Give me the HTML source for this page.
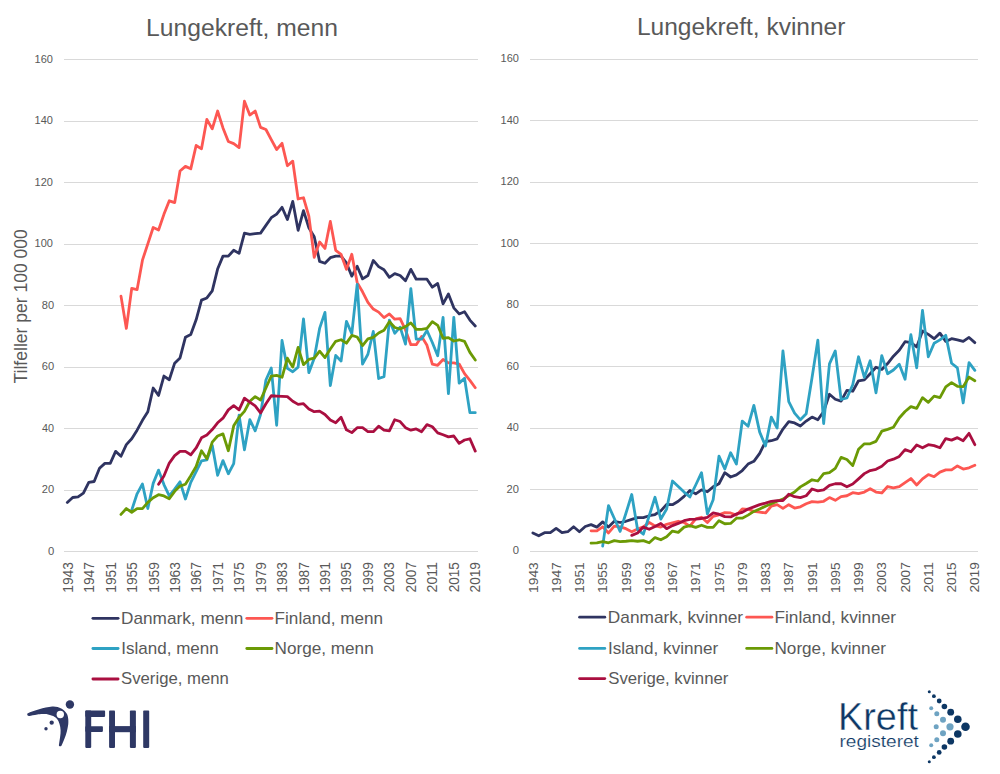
<!DOCTYPE html><html><head><meta charset="utf-8"><title>Lungekreft</title><style>html,body{margin:0;padding:0;background:#fff;overflow:hidden;}svg{display:block;}text{font-family:"Liberation Sans",sans-serif;}</style></head><body>
<svg width="1000" height="774" viewBox="0 0 1000 774">
<rect width="1000" height="774" fill="#fff"/>
<rect x="64" y="551" width="414" height="1" fill="#d9d9d9"/>
<rect x="64" y="490" width="414" height="1" fill="#d9d9d9"/>
<rect x="64" y="428" width="414" height="1" fill="#d9d9d9"/>
<rect x="64" y="367" width="414" height="1" fill="#d9d9d9"/>
<rect x="64" y="305" width="414" height="1" fill="#d9d9d9"/>
<rect x="64" y="244" width="414" height="1" fill="#d9d9d9"/>
<rect x="64" y="182" width="414" height="1" fill="#d9d9d9"/>
<rect x="64" y="121" width="414" height="1" fill="#d9d9d9"/>
<rect x="64" y="59" width="414" height="1" fill="#d9d9d9"/>
<rect x="530" y="551" width="448" height="1" fill="#d9d9d9"/>
<rect x="530" y="489" width="448" height="1" fill="#d9d9d9"/>
<rect x="530" y="428" width="448" height="1" fill="#d9d9d9"/>
<rect x="530" y="366" width="448" height="1" fill="#d9d9d9"/>
<rect x="530" y="305" width="448" height="1" fill="#d9d9d9"/>
<rect x="530" y="243" width="448" height="1" fill="#d9d9d9"/>
<rect x="530" y="182" width="448" height="1" fill="#d9d9d9"/>
<rect x="530" y="120" width="448" height="1" fill="#d9d9d9"/>
<rect x="530" y="59" width="448" height="1" fill="#d9d9d9"/>
<text x="47.91" y="554.6" font-size="11.3" fill="#595959" textLength="6.28" lengthAdjust="spacingAndGlyphs">0</text>
<text x="512.66" y="554" font-size="11.3" fill="#595959" textLength="6.28" lengthAdjust="spacingAndGlyphs">0</text>
<text x="41.79" y="493.1" font-size="11.3" fill="#595959" textLength="12.4" lengthAdjust="spacingAndGlyphs">20</text>
<text x="506.54" y="492.5" font-size="11.3" fill="#595959" textLength="12.4" lengthAdjust="spacingAndGlyphs">20</text>
<text x="42.1" y="431.6" font-size="11.3" fill="#595959" textLength="12.07" lengthAdjust="spacingAndGlyphs">40</text>
<text x="506.85" y="431" font-size="11.3" fill="#595959" textLength="12.07" lengthAdjust="spacingAndGlyphs">40</text>
<text x="41.78" y="370.1" font-size="11.3" fill="#595959" textLength="12.4" lengthAdjust="spacingAndGlyphs">60</text>
<text x="506.53" y="369.5" font-size="11.3" fill="#595959" textLength="12.4" lengthAdjust="spacingAndGlyphs">60</text>
<text x="41.87" y="308.6" font-size="11.3" fill="#595959" textLength="12.31" lengthAdjust="spacingAndGlyphs">80</text>
<text x="506.62" y="308" font-size="11.3" fill="#595959" textLength="12.31" lengthAdjust="spacingAndGlyphs">80</text>
<text x="34.56" y="247.1" font-size="11.3" fill="#595959" textLength="18.37" lengthAdjust="spacingAndGlyphs">100</text>
<text x="500.56" y="246.5" font-size="11.3" fill="#595959" textLength="18.37" lengthAdjust="spacingAndGlyphs">100</text>
<text x="34.56" y="185.6" font-size="11.3" fill="#595959" textLength="18.37" lengthAdjust="spacingAndGlyphs">120</text>
<text x="500.56" y="185" font-size="11.3" fill="#595959" textLength="18.37" lengthAdjust="spacingAndGlyphs">120</text>
<text x="34.56" y="124.1" font-size="11.3" fill="#595959" textLength="18.37" lengthAdjust="spacingAndGlyphs">140</text>
<text x="500.56" y="123.5" font-size="11.3" fill="#595959" textLength="18.37" lengthAdjust="spacingAndGlyphs">140</text>
<text x="34.56" y="62.6" font-size="11.3" fill="#595959" textLength="18.37" lengthAdjust="spacingAndGlyphs">160</text>
<text x="500.56" y="62" font-size="11.3" fill="#595959" textLength="18.37" lengthAdjust="spacingAndGlyphs">160</text>
<text transform="translate(72.86,591.7) rotate(-90)" x="-1.05" y="0" font-size="14.27" fill="#595959" textLength="30.66" lengthAdjust="spacingAndGlyphs">1943</text>
<text transform="translate(94.29,591.7) rotate(-90)" x="-1.05" y="0" font-size="14.27" fill="#595959" textLength="30.75" lengthAdjust="spacingAndGlyphs">1947</text>
<text transform="translate(115.72,591.7) rotate(-90)" x="-1.05" y="0" font-size="14.27" fill="#595959" textLength="30.73" lengthAdjust="spacingAndGlyphs">1951</text>
<text transform="translate(137.14,591.7) rotate(-90)" x="-1.05" y="0" font-size="14.27" fill="#595959" textLength="30.63" lengthAdjust="spacingAndGlyphs">1955</text>
<text transform="translate(158.57,591.7) rotate(-90)" x="-1.05" y="0" font-size="14.27" fill="#595959" textLength="30.71" lengthAdjust="spacingAndGlyphs">1959</text>
<text transform="translate(180,591.7) rotate(-90)" x="-1.05" y="0" font-size="14.27" fill="#595959" textLength="30.66" lengthAdjust="spacingAndGlyphs">1963</text>
<text transform="translate(201.43,591.7) rotate(-90)" x="-1.05" y="0" font-size="14.27" fill="#595959" textLength="30.75" lengthAdjust="spacingAndGlyphs">1967</text>
<text transform="translate(222.86,591.7) rotate(-90)" x="-1.05" y="0" font-size="14.27" fill="#595959" textLength="30.73" lengthAdjust="spacingAndGlyphs">1971</text>
<text transform="translate(244.28,591.7) rotate(-90)" x="-1.05" y="0" font-size="14.27" fill="#595959" textLength="30.63" lengthAdjust="spacingAndGlyphs">1975</text>
<text transform="translate(265.71,591.7) rotate(-90)" x="-1.05" y="0" font-size="14.27" fill="#595959" textLength="30.71" lengthAdjust="spacingAndGlyphs">1979</text>
<text transform="translate(287.14,591.7) rotate(-90)" x="-1.05" y="0" font-size="14.27" fill="#595959" textLength="30.66" lengthAdjust="spacingAndGlyphs">1983</text>
<text transform="translate(308.57,591.7) rotate(-90)" x="-1.05" y="0" font-size="14.27" fill="#595959" textLength="30.75" lengthAdjust="spacingAndGlyphs">1987</text>
<text transform="translate(330,591.7) rotate(-90)" x="-1.05" y="0" font-size="14.27" fill="#595959" textLength="30.73" lengthAdjust="spacingAndGlyphs">1991</text>
<text transform="translate(351.42,591.7) rotate(-90)" x="-1.05" y="0" font-size="14.27" fill="#595959" textLength="30.63" lengthAdjust="spacingAndGlyphs">1995</text>
<text transform="translate(372.85,591.7) rotate(-90)" x="-1.05" y="0" font-size="14.27" fill="#595959" textLength="30.71" lengthAdjust="spacingAndGlyphs">1999</text>
<text transform="translate(394.28,591.7) rotate(-90)" x="-0.68" y="0" font-size="14.27" fill="#595959" textLength="30.28" lengthAdjust="spacingAndGlyphs">2003</text>
<text transform="translate(415.71,591.7) rotate(-90)" x="-0.69" y="0" font-size="14.27" fill="#595959" textLength="30.37" lengthAdjust="spacingAndGlyphs">2007</text>
<text transform="translate(437.14,591.7) rotate(-90)" x="-0.69" y="0" font-size="14.27" fill="#595959" textLength="30.35" lengthAdjust="spacingAndGlyphs">2011</text>
<text transform="translate(458.56,591.7) rotate(-90)" x="-0.68" y="0" font-size="14.27" fill="#595959" textLength="30.26" lengthAdjust="spacingAndGlyphs">2015</text>
<text transform="translate(479.99,591.7) rotate(-90)" x="-0.69" y="0" font-size="14.27" fill="#595959" textLength="30.33" lengthAdjust="spacingAndGlyphs">2019</text>
<text transform="translate(537.67,591.9) rotate(-90)" x="-1.05" y="0" font-size="13.7" fill="#595959" textLength="30.66" lengthAdjust="spacingAndGlyphs">1943</text>
<text transform="translate(560.91,591.9) rotate(-90)" x="-1.05" y="0" font-size="13.7" fill="#595959" textLength="30.75" lengthAdjust="spacingAndGlyphs">1947</text>
<text transform="translate(584.16,591.9) rotate(-90)" x="-1.05" y="0" font-size="13.7" fill="#595959" textLength="30.73" lengthAdjust="spacingAndGlyphs">1951</text>
<text transform="translate(607.41,591.9) rotate(-90)" x="-1.05" y="0" font-size="13.7" fill="#595959" textLength="30.63" lengthAdjust="spacingAndGlyphs">1955</text>
<text transform="translate(630.66,591.9) rotate(-90)" x="-1.05" y="0" font-size="13.7" fill="#595959" textLength="30.71" lengthAdjust="spacingAndGlyphs">1959</text>
<text transform="translate(653.91,591.9) rotate(-90)" x="-1.05" y="0" font-size="13.7" fill="#595959" textLength="30.66" lengthAdjust="spacingAndGlyphs">1963</text>
<text transform="translate(677.15,591.9) rotate(-90)" x="-1.05" y="0" font-size="13.7" fill="#595959" textLength="30.75" lengthAdjust="spacingAndGlyphs">1967</text>
<text transform="translate(700.4,591.9) rotate(-90)" x="-1.05" y="0" font-size="13.7" fill="#595959" textLength="30.73" lengthAdjust="spacingAndGlyphs">1971</text>
<text transform="translate(723.65,591.9) rotate(-90)" x="-1.05" y="0" font-size="13.7" fill="#595959" textLength="30.63" lengthAdjust="spacingAndGlyphs">1975</text>
<text transform="translate(746.9,591.9) rotate(-90)" x="-1.05" y="0" font-size="13.7" fill="#595959" textLength="30.71" lengthAdjust="spacingAndGlyphs">1979</text>
<text transform="translate(770.15,591.9) rotate(-90)" x="-1.05" y="0" font-size="13.7" fill="#595959" textLength="30.66" lengthAdjust="spacingAndGlyphs">1983</text>
<text transform="translate(793.39,591.9) rotate(-90)" x="-1.05" y="0" font-size="13.7" fill="#595959" textLength="30.75" lengthAdjust="spacingAndGlyphs">1987</text>
<text transform="translate(816.64,591.9) rotate(-90)" x="-1.05" y="0" font-size="13.7" fill="#595959" textLength="30.73" lengthAdjust="spacingAndGlyphs">1991</text>
<text transform="translate(839.89,591.9) rotate(-90)" x="-1.05" y="0" font-size="13.7" fill="#595959" textLength="30.63" lengthAdjust="spacingAndGlyphs">1995</text>
<text transform="translate(863.14,591.9) rotate(-90)" x="-1.05" y="0" font-size="13.7" fill="#595959" textLength="30.71" lengthAdjust="spacingAndGlyphs">1999</text>
<text transform="translate(886.39,591.9) rotate(-90)" x="-0.68" y="0" font-size="13.7" fill="#595959" textLength="30.28" lengthAdjust="spacingAndGlyphs">2003</text>
<text transform="translate(909.63,591.9) rotate(-90)" x="-0.69" y="0" font-size="13.7" fill="#595959" textLength="30.37" lengthAdjust="spacingAndGlyphs">2007</text>
<text transform="translate(932.88,591.9) rotate(-90)" x="-0.69" y="0" font-size="13.7" fill="#595959" textLength="30.35" lengthAdjust="spacingAndGlyphs">2011</text>
<text transform="translate(956.13,591.9) rotate(-90)" x="-0.68" y="0" font-size="13.7" fill="#595959" textLength="30.26" lengthAdjust="spacingAndGlyphs">2015</text>
<text transform="translate(979.38,591.9) rotate(-90)" x="-0.69" y="0" font-size="13.7" fill="#595959" textLength="30.33" lengthAdjust="spacingAndGlyphs">2019</text>
<polyline points="67.3,502.41 72.67,497.49 78.04,496.88 83.4,493.19 88.77,482.43 94.14,481.5 99.51,468.28 104.88,463.36 110.24,463.36 115.61,451.37 120.98,456.29 126.35,444.61 131.72,438.77 137.08,430.16 142.45,420.32 147.82,411.71 153.19,388.04 158.56,395.42 163.92,376.05 169.29,379.74 174.66,363.14 180.03,357.91 185.4,337.31 190.76,334.55 196.13,319.79 201.5,300.11 206.87,297.96 212.24,290.89 217.6,269.06 222.97,256.15 228.34,256.15 233.71,250.31 239.08,253.38 244.44,233.09 249.81,234.32 255.18,233.71 260.55,233.09 265.92,225.41 271.28,217.72 276.65,214.03 282.02,207.27 287.39,219.56 292.76,201.43 298.12,230.33 303.49,210.65 308.86,227.87 314.23,236.78 319.6,261.38 324.96,263.22 330.33,257.69 335.7,256.15 341.07,256.15 346.44,262.91 351.8,276.13 357.17,266.3 362.54,278.9 367.91,275.52 373.28,260.45 378.64,266.6 384.01,269.68 389.38,277.36 394.75,273.67 400.12,275.52 405.48,280.75 410.85,269.37 416.22,279.21 421.59,279.21 426.96,279.21 432.32,287.2 437.69,283.51 443.06,303.8 448.43,293.97 453.8,307.8 459.16,313.95 464.53,311.8 469.9,320.1 475.27,325.94" fill="none" stroke="#2f3461" stroke-width="2.8" stroke-linejoin="round" stroke-linecap="round"/>
<polyline points="120.98,296.12 126.35,328.4 131.72,288.43 137.08,289.66 142.45,260.15 147.82,243.85 153.19,227.56 158.56,230.02 163.92,214.34 169.29,200.81 174.66,202.66 180.03,170.99 185.4,166.38 190.76,168.84 196.13,145.47 201.5,148.85 206.87,119.34 212.24,128.87 217.6,111.04 222.97,127.95 228.34,141.48 233.71,143.63 239.08,147.62 244.44,101.2 249.81,115.04 255.18,111.04 260.55,127.33 265.92,129.48 271.28,139.63 276.65,149.47 282.02,143.32 287.39,165.76 292.76,161.15 298.12,198.97 303.49,197.74 308.86,216.18 314.23,257.38 319.6,242.01 324.96,248.46 330.33,221.41 335.7,250.31 341.07,254.31 346.44,269.37 351.8,254.31 357.17,282.59 362.54,291.81 367.91,302.27 373.28,309.03 378.64,312.1 384.01,317.64 389.38,313.95 394.75,319.18 400.12,318.56 405.48,329.94 410.85,344.69 416.22,344.69 421.59,336.39 426.96,345.31 432.32,364.06 437.69,365.29 443.06,359.45 448.43,362.83 453.8,362.83 459.16,364.06 464.53,373.59 469.9,380.36 475.27,387.73" fill="none" stroke="#fd5752" stroke-width="2.8" stroke-linejoin="round" stroke-linecap="round"/>
<polyline points="131.72,510.1 137.08,493.8 142.45,483.96 147.82,508.56 153.19,483.35 158.56,470.13 163.92,484.58 169.29,495.95 174.66,489.19 180.03,481.81 185.4,499.03 190.76,482.43 196.13,471.67 201.5,460.91 206.87,459.98 212.24,445.23 217.6,475.35 222.97,460.6 228.34,473.82 233.71,463.67 239.08,415.1 244.44,449.84 249.81,419.71 255.18,430.78 260.55,414.48 265.92,380.05 271.28,368.06 276.65,425.24 282.02,340.39 287.39,368.37 292.76,371.75 298.12,367.14 303.49,318.87 308.86,372.67 314.23,358.22 319.6,328.4 324.96,312.41 330.33,385.58 335.7,355.45 341.07,360.99 346.44,321.33 351.8,333.63 357.17,284.43 362.54,364.06 367.91,354.22 373.28,331.47 378.64,378.51 384.01,376.67 389.38,320.1 394.75,333.32 400.12,327.17 405.48,344.08 410.85,288.74 416.22,339.16 421.59,339.16 426.96,330.55 432.32,342.54 437.69,355.76 443.06,317.33 448.43,393.58 453.8,317.33 459.16,383.12 464.53,378.2 469.9,412.64 475.27,412.64" fill="none" stroke="#2ea2c3" stroke-width="2.8" stroke-linejoin="round" stroke-linecap="round"/>
<polyline points="120.98,514.4 126.35,508.56 131.72,512.25 137.08,508.56 142.45,508.56 147.82,502.41 153.19,497.8 158.56,494.72 163.92,495.95 169.29,498.72 174.66,491.34 180.03,486.12 185.4,484.27 190.76,475.66 196.13,466.44 201.5,450.76 206.87,458.75 212.24,442.15 217.6,436 222.97,433.85 228.34,450.76 233.71,425.86 239.08,417.25 244.44,411.41 249.81,401.26 255.18,396.65 260.55,400.03 265.92,388.04 271.28,376.05 276.65,375.44 282.02,377.28 287.39,358.22 292.76,367.14 298.12,347.46 303.49,364.68 308.86,359.45 314.23,358.22 319.6,351.15 324.96,357.61 330.33,349 335.7,341.31 341.07,339.77 346.44,343.16 351.8,335.47 357.17,337.01 362.54,345.62 367.91,338.85 373.28,337.31 378.64,333.01 384.01,330.24 389.38,321.63 394.75,327.48 400.12,329.01 405.48,326.55 410.85,322.86 416.22,329.32 421.59,329.32 426.96,328.4 432.32,321.63 437.69,325.32 443.06,338.24 448.43,337.62 453.8,341 459.16,339.77 464.53,341.31 469.9,352.38 475.27,360.06" fill="none" stroke="#6b9a05" stroke-width="2.8" stroke-linejoin="round" stroke-linecap="round"/>
<polyline points="158.56,484.27 163.92,475.97 169.29,463.06 174.66,455.68 180.03,451.37 185.4,451.37 190.76,454.76 196.13,447.99 201.5,437.85 206.87,435.08 212.24,429.55 217.6,422.78 222.97,418.17 228.34,409.87 233.71,405.57 239.08,409.87 244.44,398.19 249.81,402.18 255.18,405.87 260.55,412.94 265.92,403.72 271.28,395.73 276.65,396.04 282.02,396.34 287.39,396.65 292.76,401.26 298.12,404.34 303.49,403.72 308.86,408.95 314.23,411.71 319.6,411.1 324.96,414.48 330.33,420.02 335.7,422.78 341.07,417.25 346.44,429.85 351.8,432.62 357.17,427.7 362.54,427.7 367.91,431.7 373.28,431.7 378.64,426.16 384.01,430.16 389.38,430.78 394.75,419.71 400.12,421.55 405.48,427.7 410.85,430.16 416.22,428.93 421.59,431.7 426.96,424.63 432.32,426.78 437.69,432.93 443.06,434.77 448.43,436.92 453.8,436 459.16,443.38 464.53,440 469.9,438.77 475.27,451.07" fill="none" stroke="#aa0f40" stroke-width="2.8" stroke-linejoin="round" stroke-linecap="round"/>
<polyline points="532.9,532.95 538.72,535.72 544.53,532.65 550.35,532.65 556.16,528.34 561.98,532.65 567.79,531.72 573.61,526.8 579.42,531.72 585.24,526.5 591.05,524.65 596.87,527.11 602.68,521.89 608.5,527.11 614.31,521.27 620.12,522.5 625.94,521.27 631.75,519.43 637.57,517.58 643.38,517.58 649.2,515.74 655.01,514.51 660.83,510.82 666.64,504.36 672.46,504.67 678.27,501.29 684.09,496.37 689.9,490.53 695.72,493.91 701.53,489.91 707.35,491.76 713.16,486.84 718.98,483.76 724.79,472.7 730.61,477 736.42,474.85 742.24,470.54 748.05,464.09 753.87,461.32 759.68,453.33 765.5,441.64 771.32,440.72 777.13,438.88 782.94,429.04 788.76,421.66 794.58,422.89 800.39,425.96 806.2,421.05 812.02,417.05 817.84,419.82 823.65,411.51 829.46,394.3 835.28,399.22 841.1,401.06 846.91,390.3 852.73,391.22 858.54,380.77 864.36,379.85 870.17,373.7 875.99,367.24 881.8,369.4 887.62,363.55 893.43,356.18 899.25,350.33 905.06,341.73 910.88,342.65 916.69,346.95 922.5,330.97 928.32,334.35 934.13,338.65 939.95,333.12 945.76,341.42 951.58,338.65 957.39,339.88 963.21,341.42 969.03,337.42 974.84,342.65" fill="none" stroke="#2f3461" stroke-width="2.8" stroke-linejoin="round" stroke-linecap="round"/>
<polyline points="591.05,530.8 596.87,530.8 602.68,526.8 608.5,532.95 614.31,526.19 620.12,526.8 625.94,528.65 631.75,531.72 637.57,528.96 643.38,526.8 649.2,522.5 655.01,525.88 660.83,527.11 666.64,524.35 672.46,522.81 678.27,521.27 684.09,522.5 689.9,526.19 695.72,518.81 701.53,517.27 707.35,522.5 713.16,516.35 718.98,514.81 724.79,512.66 730.61,512.97 736.42,515.12 742.24,508.97 748.05,509.28 753.87,511.43 759.68,512.05 765.5,512.97 771.32,506.21 777.13,504.67 782.94,508.36 788.76,504.67 794.58,508.05 800.39,506.82 806.2,503.75 812.02,501.59 817.84,502.21 823.65,501.29 829.46,497.6 835.28,500.36 841.1,496.68 846.91,495.75 852.73,492.68 858.54,493.6 864.36,492.06 870.17,488.68 875.99,492.06 881.8,492.99 887.62,486.53 893.43,487.76 899.25,486.53 905.06,482.53 910.88,478.54 916.69,484.99 922.5,478.84 928.32,474.54 934.13,476.69 939.95,472.08 945.76,469.93 951.58,469.93 957.39,465.93 963.21,469.01 969.03,467.78 974.84,465.32" fill="none" stroke="#fd5752" stroke-width="2.8" stroke-linejoin="round" stroke-linecap="round"/>
<polyline points="602.68,546.17 608.5,505.59 614.31,518.5 620.12,531.42 625.94,513.28 631.75,494.52 637.57,529.57 643.38,534.18 649.2,515.74 655.01,497.29 660.83,519.12 666.64,508.97 672.46,481 678.27,486.53 684.09,492.06 689.9,496.98 695.72,484.99 701.53,472.7 707.35,513.89 713.16,499.75 718.98,456.09 724.79,469.01 730.61,452.71 736.42,464.09 742.24,421.05 748.05,426.27 753.87,405.37 759.68,432.11 765.5,445.95 771.32,417.05 777.13,428.12 782.94,350.95 788.76,401.68 794.58,413.05 800.39,419.82 806.2,413.67 812.02,377.7 817.84,340.19 823.65,423.5 829.46,363.86 835.28,350.95 841.1,399.52 846.91,397.99 852.73,384.77 858.54,356.79 864.36,377.39 870.17,360.79 875.99,392.76 881.8,355.56 887.62,373.7 893.43,370.01 899.25,364.17 905.06,379.23 910.88,334.65 916.69,367.86 922.5,310.37 928.32,356.79 934.13,343.26 939.95,339.88 945.76,335.27 951.58,363.25 957.39,367.86 963.21,402.91 969.03,362.63 974.84,370.32" fill="none" stroke="#2ea2c3" stroke-width="2.8" stroke-linejoin="round" stroke-linecap="round"/>
<polyline points="591.05,543.1 596.87,542.79 602.68,541.56 608.5,542.79 614.31,540.64 620.12,541.56 625.94,541.25 631.75,540.64 637.57,541.25 643.38,540.64 649.2,542.79 655.01,537.57 660.83,539.72 666.64,536.64 672.46,531.11 678.27,532.34 684.09,527.11 689.9,525.58 695.72,527.42 701.53,525.27 707.35,527.42 713.16,527.42 718.98,520.66 724.79,523.73 730.61,523.42 736.42,518.2 742.24,518.2 748.05,515.12 753.87,511.43 759.68,508.97 765.5,506.21 771.32,503.75 777.13,501.29 782.94,499.14 788.76,495.45 794.58,492.06 800.39,486.84 806.2,483.46 812.02,479.77 817.84,481 823.65,473.62 829.46,472.7 835.28,468.39 841.1,457.32 846.91,459.48 852.73,465.62 858.54,449.33 864.36,443.8 870.17,443.8 875.99,441.34 881.8,431.19 887.62,429.35 893.43,427.19 899.25,417.97 905.06,411.51 910.88,406.6 916.69,408.44 922.5,397.68 928.32,402.29 934.13,396.14 939.95,397.68 945.76,386.92 951.58,382.62 957.39,386.3 963.21,386.61 969.03,377.08 974.84,380.77" fill="none" stroke="#6b9a05" stroke-width="2.8" stroke-linejoin="round" stroke-linecap="round"/>
<polyline points="631.75,535.41 637.57,532.95 643.38,527.11 649.2,529.26 655.01,526.5 660.83,523.42 666.64,528.65 672.46,525.58 678.27,523.42 684.09,520.66 689.9,519.43 695.72,519.12 701.53,518.5 707.35,517.27 713.16,512.97 718.98,514.2 724.79,516.66 730.61,516.97 736.42,513.89 742.24,512.36 748.05,508.97 753.87,506.82 759.68,504.67 765.5,503.13 771.32,501.29 777.13,500.67 782.94,500.67 788.76,494.22 794.58,496.68 800.39,497.6 806.2,495.75 812.02,488.99 817.84,490.83 823.65,489.91 829.46,485.3 835.28,483.76 841.1,483.76 846.91,486.84 852.73,484.07 858.54,478.84 864.36,473.62 870.17,470.54 875.99,469.31 881.8,466.24 887.62,461.01 893.43,459.17 899.25,456.4 905.06,449.64 910.88,451.79 916.69,445.03 922.5,447.79 928.32,444.72 934.13,445.64 939.95,447.79 945.76,438.57 951.58,440.11 957.39,437.65 963.21,440.72 969.03,433.34 974.84,444.72" fill="none" stroke="#aa0f40" stroke-width="2.8" stroke-linejoin="round" stroke-linecap="round"/>
<text x="146.08" y="35.8" font-size="24.4" fill="#595959" textLength="191.92" lengthAdjust="spacingAndGlyphs">Lungekreft, menn</text>
<text x="636.99" y="34.9" font-size="24.4" fill="#595959" textLength="208.42" lengthAdjust="spacingAndGlyphs">Lungekreft, kvinner</text>
<text transform="translate(27,383.1) rotate(-90)" x="-0.39" y="0" font-size="18" fill="#595959" textLength="154.27" lengthAdjust="spacingAndGlyphs">Tilfeller per 100 000</text>
<line x1="92.9" y1="618.3" x2="118.1" y2="618.3" stroke="#2f3461" stroke-width="2.8" stroke-linecap="round"/>
<text x="121.09" y="623.8" font-size="17" fill="#595959" textLength="122.33" lengthAdjust="spacingAndGlyphs">Danmark, menn</text>
<line x1="246.8" y1="618.3" x2="272" y2="618.3" stroke="#fd5752" stroke-width="2.8" stroke-linecap="round"/>
<text x="274.6" y="623.8" font-size="17" fill="#595959" textLength="108.52" lengthAdjust="spacingAndGlyphs">Finland, menn</text>
<line x1="92.9" y1="648.5" x2="118.1" y2="648.5" stroke="#2ea2c3" stroke-width="2.8" stroke-linecap="round"/>
<text x="121.33" y="653.8" font-size="17" fill="#595959" textLength="97.37" lengthAdjust="spacingAndGlyphs">Island, menn</text>
<line x1="246.8" y1="648.5" x2="272" y2="648.5" stroke="#6b9a05" stroke-width="2.8" stroke-linecap="round"/>
<text x="274.59" y="653.8" font-size="17" fill="#595959" textLength="99.12" lengthAdjust="spacingAndGlyphs">Norge, menn</text>
<line x1="92.9" y1="679" x2="118.1" y2="679" stroke="#aa0f40" stroke-width="2.8" stroke-linecap="round"/>
<text x="121.04" y="684.4" font-size="17" fill="#595959" textLength="107.85" lengthAdjust="spacingAndGlyphs">Sverige, menn</text>
<line x1="579.6" y1="617.2" x2="604.8" y2="617.2" stroke="#2f3461" stroke-width="2.8" stroke-linecap="round"/>
<text x="607.88" y="622.7" font-size="17" fill="#595959" textLength="135.2" lengthAdjust="spacingAndGlyphs">Danmark, kvinner</text>
<line x1="746.7" y1="617.2" x2="771.9" y2="617.2" stroke="#fd5752" stroke-width="2.8" stroke-linecap="round"/>
<text x="774.49" y="622.7" font-size="17" fill="#595959" textLength="121.6" lengthAdjust="spacingAndGlyphs">Finland, kvinner</text>
<line x1="579.6" y1="648.4" x2="604.8" y2="648.4" stroke="#2ea2c3" stroke-width="2.8" stroke-linecap="round"/>
<text x="608.02" y="653.9" font-size="17" fill="#595959" textLength="110.16" lengthAdjust="spacingAndGlyphs">Island, kvinner</text>
<line x1="746.7" y1="648.4" x2="771.9" y2="648.4" stroke="#6b9a05" stroke-width="2.8" stroke-linecap="round"/>
<text x="774.49" y="653.9" font-size="17" fill="#595959" textLength="111.39" lengthAdjust="spacingAndGlyphs">Norge, kvinner</text>
<line x1="579.6" y1="678.6" x2="604.8" y2="678.6" stroke="#aa0f40" stroke-width="2.8" stroke-linecap="round"/>
<text x="608.24" y="684.1" font-size="17" fill="#595959" textLength="120.14" lengthAdjust="spacingAndGlyphs">Sverige, kvinner</text>
<g fill="#2e3865">
<path d="M27.4,713.5 C34,710.4 44,707.7 52.2,706.6 C58.9,706.2 63.6,709 67,714.1 C68.8,718 68.6,724 67.7,727.6 C66.8,733 65,738 63,742.3 C62,744.5 61.6,745.6 61.3,746 C60,746.8 58.7,746.2 58.9,745 C59.6,740 60.8,734 60.6,730.2 C60.4,726 59.2,721.5 56.9,718.8 C55,716.8 53.5,716.2 52.2,715.8 C49,714.6 46.5,714.1 45.5,714.1 C42,713.9 39,714.1 37.4,714.5 C34,715 31,715.7 29.4,716 C27.8,716.3 26.8,715 27.4,713.5 Z"/>
<circle cx="69.9" cy="704.5" r="4.2"/>
<circle cx="51.7" cy="722.7" r="2.15"/>
<circle cx="46" cy="728.7" r="1.7"/>
<rect x="85.3" y="710.6" width="5.9" height="37.3" rx="0.8"/>
<rect x="85.3" y="710.6" width="19.8" height="6.3" rx="0.8"/>
<rect x="85.3" y="726.2" width="17.6" height="5.7" rx="0.8"/>
<rect x="109.1" y="710.6" width="5.9" height="37.3" rx="0.8"/>
<rect x="129.9" y="710.6" width="6" height="37.3" rx="0.8"/>
<rect x="109.1" y="726.1" width="26.8" height="6.1"/>
<rect x="143.2" y="710.6" width="6" height="37.3" rx="0.8"/>
</g>
<circle cx="60.3" cy="714.5" r="3.7" fill="#fff"/>
<text x="837.99" y="729.8" font-size="39.4" fill="#0d3764" textLength="79.98" lengthAdjust="spacingAndGlyphs" stroke="#fff" stroke-width="0.4">Kreft</text>
<text x="839.54" y="747.2" font-size="16.7" fill="#0d3764" textLength="79.3" lengthAdjust="spacingAndGlyphs" stroke="#fff" stroke-width="0.2">registeret</text>
<circle cx="929.3" cy="691.7" r="1.5" fill="#0d3764"/>
<circle cx="933.9" cy="696.2" r="1.9" fill="#0d3764"/>
<circle cx="939.2" cy="701" r="2.4" fill="#0d3764"/>
<circle cx="944.4" cy="706.5" r="2.8" fill="#0d3764"/>
<circle cx="950.7" cy="712.2" r="3.4" fill="#0d3764"/>
<circle cx="957.8" cy="719.3" r="3.8" fill="#0d3764"/>
<circle cx="965.5" cy="726.8" r="4.3" fill="#0d3764"/>
<circle cx="957.8" cy="734" r="3.8" fill="#0d3764"/>
<circle cx="950.7" cy="741.2" r="3.4" fill="#0d3764"/>
<circle cx="944.4" cy="747" r="2.8" fill="#0d3764"/>
<circle cx="939.2" cy="752.4" r="2.4" fill="#0d3764"/>
<circle cx="933.9" cy="757.2" r="1.9" fill="#0d3764"/>
<circle cx="929.3" cy="761.7" r="1.5" fill="#0d3764"/>
<circle cx="931.2" cy="708.2" r="2" fill="#6ea3c2"/>
<circle cx="936.8" cy="713.75" r="2.5" fill="#6ea3c2"/>
<circle cx="943" cy="719.75" r="3" fill="#6ea3c2"/>
<circle cx="950" cy="726.8" r="3.6" fill="#6ea3c2"/>
<circle cx="943" cy="733.25" r="3" fill="#6ea3c2"/>
<circle cx="936.8" cy="739.7" r="2.5" fill="#6ea3c2"/>
<circle cx="931.2" cy="745.25" r="2" fill="#6ea3c2"/>
<circle cx="936.2" cy="726.8" r="2.5" fill="#6ea3c2"/>
</svg></body></html>
